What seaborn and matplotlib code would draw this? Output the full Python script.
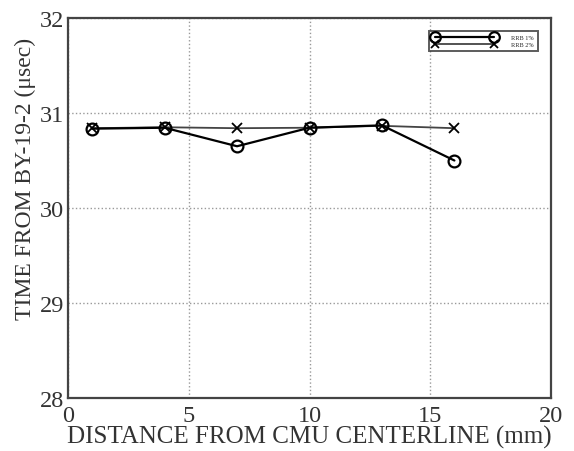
import pandas as pd
import matplotlib.pyplot as plt
import seaborn as sns

# values
distance = [1, 4, 7, 10, 13, 16]
time_circle = [30.835, 30.845, 30.65, 30.845, 30.87, 30.50]
time_cross = [30.84, 30.85, 30.84, 30.845, 30.865, 30.84]
series_names = ["RRB 1%", "RRB 2%"]

df_circle = pd.DataFrame({"distance": distance, "time": time_circle})
df_cross = pd.DataFrame({"distance": distance, "time": time_cross})

sns.set_style("white")
plt.rcParams['font.family'] = ['Liberation Serif', 'DejaVu Serif']

fig = plt.figure(figsize=(5.74, 4.52), dpi=100)
ax = fig.add_axes([68 / 574, 1 - 399 / 452, 483 / 574, 380 / 452])

# cross series first so the circles sit on top
sns.lineplot(data=df_cross, x="distance", y="time", marker="x", color="#444444",
             markersize=6.5, linewidth=1.3, markeredgewidth=1.3, markeredgecolor="black",
             label=series_names[1], ax=ax, zorder=2)
sns.lineplot(data=df_circle, x="distance", y="time", marker="o", color="black",
             markersize=8.5, linewidth=1.6, markerfacecolor="none",
             markeredgecolor="black", markeredgewidth=1.6,
             label=series_names[0], ax=ax, zorder=3)

ax.set_xlim(0, 20)
ax.set_ylim(28, 32)
ax.set_xticks([0, 5, 10, 15, 20])
ax.set_yticks([28, 29, 30, 31, 32])
ax.grid(True, linestyle=":", color="#999999", linewidth=1.0)
ax.tick_params(direction="in", labelsize=17.5, length=4, color="black",
               labelcolor="#333333", pad=3)
ax.tick_params(axis="x", pad=5)
for sp in ax.spines.values():
    sp.set_color("#444444")
    sp.set_linewidth(1.6)

ax.set_xlabel("DISTANCE FROM CMU CENTERLINE (mm)", fontsize=18, labelpad=-0.5, color="#333333")
ax.set_ylabel("TIME FROM BY-19-2 (\u03bcsec)", fontsize=17, color="#333333")
ax.yaxis.set_label_coords(-0.066, 0.58)

handles, labels = ax.get_legend_handles_labels()
leg = ax.legend(handles[::-1], labels[::-1], loc="upper right", fontsize=4.5,
                frameon=True, fancybox=False, edgecolor="#333333", numpoints=2,
                handlelength=10, borderpad=0.7, labelspacing=0.15, handletextpad=2.5,
                bbox_to_anchor=(0.98, 0.975), markerscale=0.9)
leg.get_frame().set_linewidth(1.4)

fig.savefig("out.png", dpi=100)
